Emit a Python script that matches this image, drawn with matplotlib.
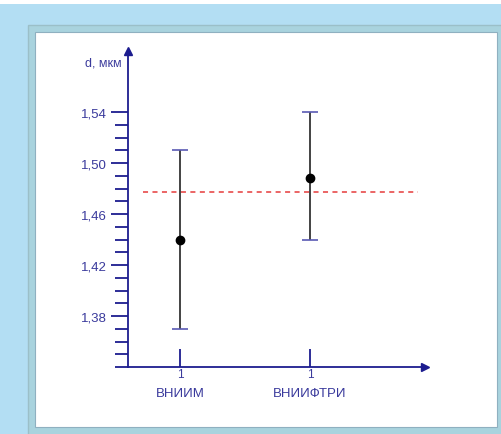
import matplotlib
matplotlib.use("Agg")
import matplotlib.pyplot as plt
from matplotlib.patches import Rectangle

# Data
categories = ["ВНИИМ", "ВНИИФТРИ"]
tick_numbers = ["1", "1"]
means = [1.440, 1.488]
lower = [1.370, 1.440]
upper = [1.510, 1.540]
reference_value = 1.477
y_major = [1.38, 1.42, 1.46, 1.50, 1.54]
y_major_labels = ["1,38", "1,42", "1,46", "1,50", "1,54"]
y_minor = [1.34, 1.35, 1.36, 1.37, 1.39, 1.40, 1.41, 1.43, 1.44, 1.45,
           1.47, 1.48, 1.49, 1.51, 1.52, 1.53]
y_label = "d, мкм"

W, H = 502, 435
plt.rcParams['font.family'] = ['Liberation Sans', 'DejaVu Sans']
fig = plt.figure(figsize=(W / 100, H / 100), dpi=100)
fig.patch.set_facecolor("#b3def3")

def px(x0, y0, w, h):
    return (x0 / W, 1 - (y0 + h) / H, w / W, h / H)

def add_rect(x0, y0, w, h, **kw):
    x, y, ww, hh = px(x0, y0, w, h)
    r = Rectangle((x, y), ww, hh, transform=fig.transFigure, **kw)
    fig.add_artist(r)
    return r

add_rect(0, 0, W, 5, facecolor="white", edgecolor="none", zorder=1)
add_rect(28, 26, 478, 412, facecolor="#a9d3de", edgecolor="#9bbfc8", lw=1, zorder=1)
add_rect(35, 33, 462, 395, facecolor="white", edgecolor="#8fb0c0", lw=0.8, zorder=1)

axis_col = "#1c1c8f"
text_col = "#3a3a9c"

ax = fig.add_axes(px(128, 52, 297, 316))
ax.set_zorder(5)
ax.set_facecolor("none")
ax.set_xlim(0.6, 2.885)
ax.set_ylim(1.34, 1.588)
for s in ["top", "right"]:
    ax.spines[s].set_visible(False)
for s in ["left", "bottom"]:
    ax.spines[s].set_color(axis_col)
    ax.spines[s].set_linewidth(1.3)

# arrows
ax.plot([0.6], [1.588], marker="^", color=axis_col, markersize=6, clip_on=False, zorder=5)
ax.plot([2.885], [1.34], marker=">", color=axis_col, markersize=6, clip_on=False, zorder=5)

ax.set_yticks(y_major)
ax.set_yticklabels(y_major_labels)
ax.set_yticks(y_minor, minor=True)
ax.tick_params(axis="y", which="major", direction="out", length=12, width=1.3,
               color=axis_col, labelcolor=text_col, labelsize=9.5, pad=3)
ax.tick_params(axis="y", which="minor", direction="out", length=9.5, width=1.3,
               color=axis_col)

xpos = list(range(1, len(categories) + 1))
ax.set_xticks(xpos)
ax.set_xticklabels(tick_numbers)
ax.tick_params(axis="x", which="major", direction="in", length=13, width=1.3,
               color=axis_col, labelcolor=text_col, labelsize=8.5, pad=1)
for xp, c in zip(xpos, categories):
    ax.annotate(c, xy=(xp, 0), xycoords=("data", "axes fraction"),
                xytext=(0, -26), textcoords="offset pixels",
                ha="center", va="center", color=text_col, fontsize=9.5)

ax.text(-0.02, 0.965, y_label, transform=ax.transAxes, ha="right", va="center",
        color=text_col, fontsize=9)

# reference line
ax.plot([0.715, 2.83], [reference_value, reference_value], color="#e53a3a",
        lw=1.1, dashes=(3.3, 2.9), zorder=2)

# error bars
yerr = [[m - l for m, l in zip(means, lower)], [u - m for m, u in zip(means, upper)]]
eb = ax.errorbar(xpos, means, yerr=yerr, fmt="o", color="black", ecolor="#222222",
                 elinewidth=1.2, capsize=6, capthick=1.2, markersize=6, zorder=4)
for cap in eb[1]:
    cap.set_markeredgecolor("#5a5ab4")
    cap.set_zorder(6)

fig.savefig("out.png", dpi=100, facecolor=fig.get_facecolor())
